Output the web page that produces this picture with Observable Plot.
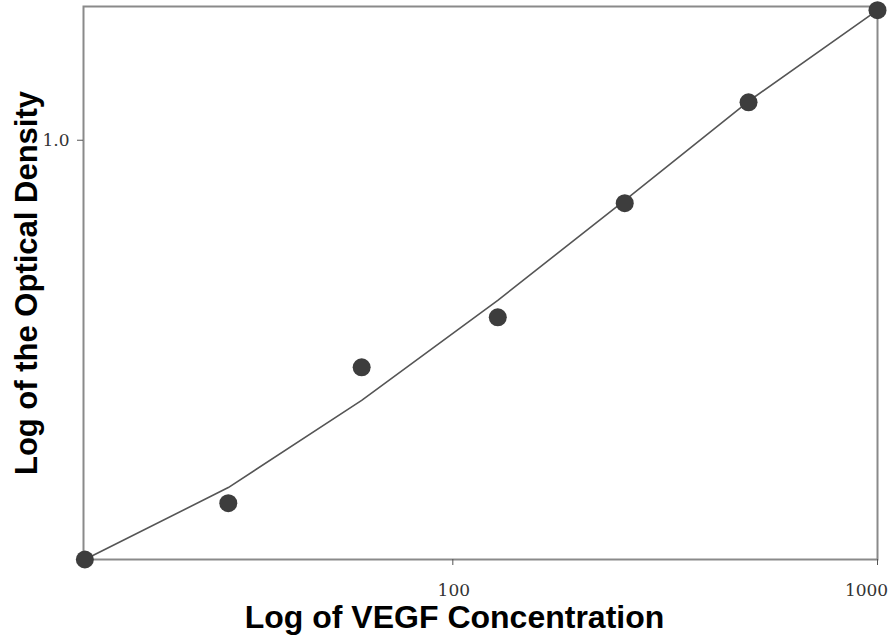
<!DOCTYPE html>
<html>
<head>
<meta charset="utf-8">
<script src="https://cdn.jsdelivr.net/npm/d3@7"></script>
<script src="https://cdn.jsdelivr.net/npm/@observablehq/plot@0.6"></script>
<style>
  html, body { margin: 0; padding: 0; background: #fff; }
  #chart svg { display: block; }
</style>
</head>
<body>
<div id="chart"></div>
<script>
// VEGF standard curve (log–log): measured optical density and fitted curve
const concentration = [13.6, 29.6, 61, 127.6, 254, 497, 1000];
const measuredOD    = [0.107, 0.1445, 0.298, 0.389, 0.715, 1.224, 2.0];
const fittedOD      = [0.107, 0.157, 0.250, 0.426, 0.726, 1.231, 2.0];
const xTicks = [100, 1000];
const xTickShift = [1, -11];   // keep the last label inside the page
const yTicks = [1.0];
const xTitle = "Log of VEGF Concentration";
const yTitle = "Log of the Optical Density";

const points = concentration.map((c, i) => ({c, od: measuredOD[i]}));
const curve  = concentration.map((c, i) => ({c, od: fittedOD[i]}));
const tickFont = "DejaVu Serif, Liberation Serif, serif";
const titleFont = "Liberation Sans, Arial, sans-serif";

// one label per x tick, each with its own horizontal nudge
const xTickLabels = xTicks.map((t, i) => Plot.text([t], {
  x: d => d, text: d => String(d), frameAnchor: "bottom", lineAnchor: "middle",
  dy: 31, dx: xTickShift[i], fontSize: 17, fontFamily: tickFont, fill: "#333"
}));

const chart = Plot.plot({
  width: 892,
  height: 639,
  marginLeft: 83,
  marginRight: 15,
  marginTop: 6,
  marginBottom: 80,
  style: {fontSize: "17px", fontFamily: tickFont, color: "#333"},
  x: {type: "log", domain: [13.5, 1000]},
  y: {type: "log", domain: [0.107, 2.04]},
  marks: [
    Plot.frame({stroke: "#8a8a8a", strokeWidth: 2}),
    Plot.axisX(xTicks, {tickSize: 6, stroke: "#555", tickFormat: () => "", label: null}),
    ...xTickLabels,
    Plot.axisY(yTicks, {
      tickSize: 6, tickPadding: 8, stroke: "#555", fontSize: 17,
      tickFormat: d => d.toFixed(1), label: null
    }),
    Plot.line(curve, {x: "c", y: "od", stroke: "#555", strokeWidth: 1.6}),
    Plot.dot(points, {x: "c", y: "od", r: 9, fill: "#3d3d3d", stroke: "none"}),
    Plot.text([xTitle], {
      frameAnchor: "bottom", lineAnchor: "middle", dy: 58, dx: -26,
      fontSize: 32, fontWeight: "bold", fontFamily: titleFont, fill: "#000"
    }),
    Plot.text([yTitle], {
      frameAnchor: "left", dx: -56, rotate: -90, textAnchor: "middle",
      fontSize: 31, fontWeight: "bold", fontFamily: titleFont, fill: "#000"
    })
  ]
});
document.getElementById("chart").append(chart);
</script>
</body>
</html>
